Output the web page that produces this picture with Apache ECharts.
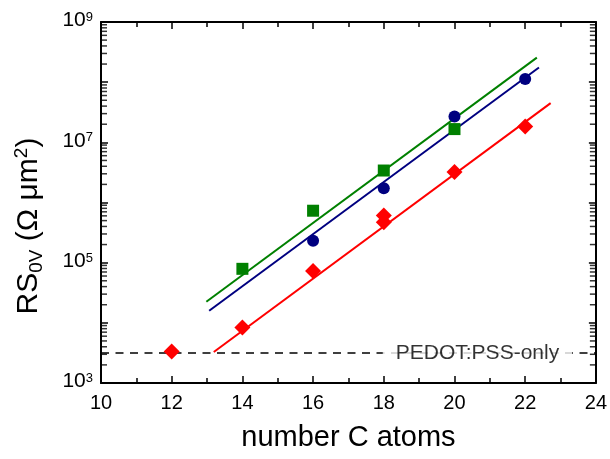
<!DOCTYPE html>
<html>
<head>
<meta charset="utf-8">
<script src="https://cdn.jsdelivr.net/npm/echarts@6/dist/echarts.min.js"></script>
<style>html,body{margin:0;padding:0;background:#fff}#c{width:610px;height:459px}</style>
</head>
<body>
<div id="c"></div>
<script>
// ---- data ----
const greenX = [14, 16, 18, 20];
const greenY = [7.9e4, 7.3e5, 3.4e6, 1.66e7];
const blueX = [16, 18, 20, 22];
const blueY = [2.31e5, 1.73e6, 2.68e7, 1.13e8];
const redX = [12, 14, 16, 18, 18, 20, 22];
const redY = [3.35e3, 8.4e3, 7.3e4, 6.1e5, 4.7e5, 3.2e6, 1.83e7];
const greenFitX = [12.98, 22.33];
const greenFitY = [2.24e4, 2.56e8];
const blueFitX = [13.06, 22.39];
const blueFitY = [1.59e4, 1.75e8];
const redFitX = [13.19, 22.72];
const redFitY = [3.27e3, 4.48e7];
const pedotX = [10, 24];
const pedotY = 3150;
const pedotLabelX = 20.65;
const xTicks = [10, 12, 14, 16, 18, 20, 22, 24];
const yDecades = [3, 4, 5, 6, 7, 8];
const minorMantissa = [2, 3, 4, 5, 6, 7, 8, 9];

const FONT = 'Liberation Sans, Arial, sans-serif';
const zip = (xs, ys) => xs.map((x, i) => [x, ys[i]]);
const xMin = xTicks[0], xMax = xTicks[xTicks.length - 1];
const minorLeft = [], minorRight = [];
yDecades.forEach(d => minorMantissa.forEach(m => {
  const v = m * Math.pow(10, d);
  minorLeft.push([xMin, v]);
  minorRight.push([xMax, v]);
}));

const chart = echarts.init(document.getElementById('c'));
const xCommon = {
  type: 'value', min: xMin, max: xMax, interval: 2,
  axisLine: { show: true, onZero: false, lineStyle: { color: '#000', width: 2 } },
  axisTick: { show: true, inside: true, length: 7, lineStyle: { color: '#000', width: 1.5 } },
  minorTick: { show: true, splitNumber: 2, length: 5, lineStyle: { color: '#000', width: 1.5 } },
  splitLine: { show: false }
};
const yCommon = {
  type: 'log', logBase: 10, min: 1e3, max: 1e9, splitNumber: 6,
  axisLine: { show: true, onZero: false, lineStyle: { color: '#000', width: 2 } },
  axisTick: { show: true, inside: true, length: 7, lineStyle: { color: '#000', width: 1.5 } },
  minorTick: { show: false },
  splitLine: { show: false }
};
const tickSeries = (data, off) => ({
  type: 'scatter', data: data, silent: true, clip: false, z: 10,
  symbol: 'rect', symbolSize: [6, 1.5], symbolOffset: [off, 0],
  itemStyle: { color: '#000' }
});
const option = {
  animation: false,
  backgroundColor: '#fff',
  grid: { left: 101, right: 13, top: 22, bottom: 76 },
  xAxis: [
    Object.assign({}, xCommon, {
      position: 'bottom',
      name: 'number C atoms', nameLocation: 'middle', nameGap: 40,
      nameTextStyle: { fontFamily: FONT, fontSize: 29, color: '#000' },
      axisLabel: { show: true, fontFamily: FONT, fontSize: 20, color: '#000', margin: 10 }
    }),
    Object.assign({}, xCommon, { position: 'top', axisLabel: { show: false } })
  ],
  yAxis: [
    Object.assign({}, yCommon, {
      position: 'left',
      axisLabel: {
        show: true, margin: 8, color: '#000', fontFamily: FONT,
        padding: [0, 0, 2, 0],
        formatter: function (v) {
          const e = Math.round(Math.log10(v));
          if (e % 2 === 0) return '';
          return '{a|10}{b|' + e + '}';
        },
        rich: {
          a: { fontSize: 21, fontFamily: FONT, color: '#000', lineHeight: 20, verticalAlign: 'bottom', padding: [6, 0, 0, 0] },
          b: { fontSize: 13, fontFamily: FONT, color: '#000', lineHeight: 13, verticalAlign: 'top' }
        }
      }
    }),
    Object.assign({}, yCommon, { position: 'right', axisLabel: { show: false } })
  ],
  graphic: [{
    type: 'text', x: 29, y: 226, rotation: Math.PI / 2,
    style: {
      text: '{a|RS}{s|0V}{a| (Ω μm}{p|2}{a|)}',
      align: 'center', verticalAlign: 'middle',
      rich: {
        a: { fontSize: 30, fontFamily: FONT, fill: '#000', lineHeight: 34, verticalAlign: 'middle' },
        s: { fontSize: 19, fontFamily: FONT, fill: '#000', lineHeight: 19, verticalAlign: 'bottom' },
        p: { fontSize: 19, fontFamily: FONT, fill: '#000', lineHeight: 19, verticalAlign: 'top' }
      }
    }
  }],
  series: [
    {
      type: 'line', data: zip(pedotX, [pedotY, pedotY]), symbol: 'none', silent: true,
      lineStyle: { color: '#000', width: 1.5, type: [8, 6.5] }, z: 1
    },
    {
      type: 'scatter', data: [[pedotLabelX, pedotY]], symbolSize: 0, silent: true, z: 2,
      label: {
        show: true, position: 'inside', formatter: 'PEDOT:PSS-only',
        fontFamily: FONT, fontSize: 21, color: '#000', backgroundColor: '#fff', padding: [1, 13, 1, 13]
      }
    },
    { type: 'line', data: zip(greenFitX, greenFitY), symbol: 'none', lineStyle: { color: '#008000', width: 2 }, z: 3 },
    { type: 'line', data: zip(blueFitX, blueFitY), symbol: 'none', lineStyle: { color: '#000080', width: 2 }, z: 3 },
    { type: 'line', data: zip(redFitX, redFitY), symbol: 'none', lineStyle: { color: '#ff0000', width: 2 }, z: 3 },
    { type: 'scatter', data: zip(greenX, greenY), symbol: 'rect', symbolSize: 12, itemStyle: { color: '#008000', opacity: 1 }, z: 4 },
    { type: 'scatter', data: zip(blueX, blueY), symbol: 'circle', symbolSize: 12, itemStyle: { color: '#000080', opacity: 1 }, z: 4 },
    { type: 'scatter', data: zip(redX, redY), symbol: 'diamond', symbolSize: 16, itemStyle: { color: '#ff0000', opacity: 1 }, z: 4 },
    tickSeries(minorLeft, 3),
    tickSeries(minorRight, -3)
  ]
};
chart.setOption(option);
</script>
</body>
</html>
